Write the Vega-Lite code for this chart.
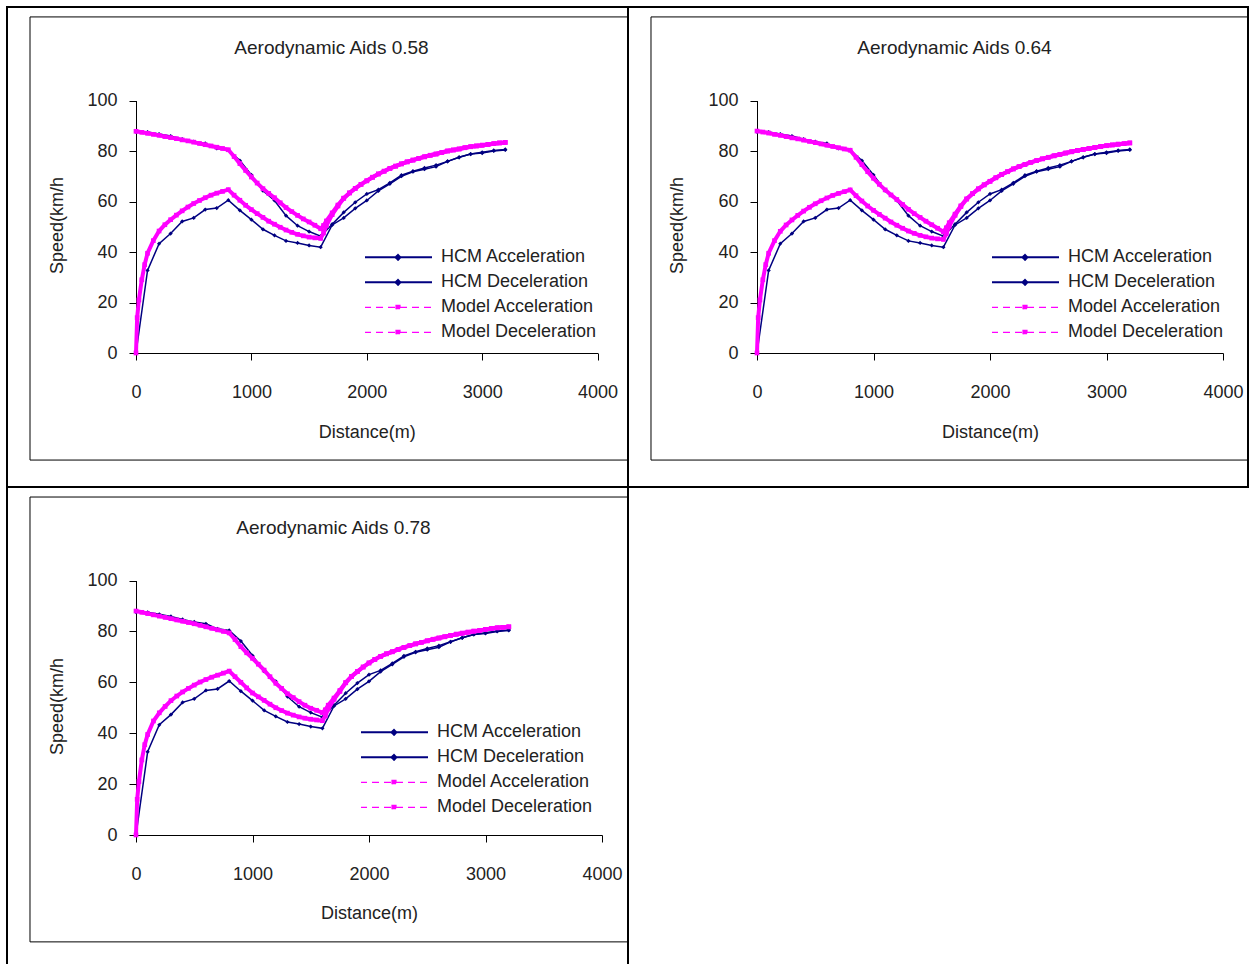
{
"$schema": "https://vega.github.io/schema/vega-lite/v6.json",
"padding": {"left": 6, "top": 6, "right": 0, "bottom": 0},
"background": "white",
"config": {
 "font": "Liberation Sans",
 "view": {"stroke": "#000", "strokeWidth": 2},
 "axis": {"grid": false, "domainColor": "#000", "tickColor": "#000", "tickSize": 7, "labelFont": "Liberation Sans", "labelFontSize": 18, "labelColor": "#222", "titleFont": "Liberation Sans", "titleFontSize": 18, "titleFontWeight": "normal", "titleColor": "#222", "format": "d"},
 "axisX": {"labelFlush": false, "labelPadding": 23, "titleBaseline": "middle"},
 "axisY": {"labelPadding": 12, "titleBaseline": "middle", "titleAlign": "center", "titleAngle": -90},
 "title": {"font": "Liberation Sans", "fontSize": 19, "fontWeight": "normal", "color": "#222", "anchor": "middle", "frame": "group", "offset": 0, "baseline": "middle"},
 "legend": {"orient": "none", "title": null, "padding": 0, "clipHeight": 22.7, "rowPadding": 2, "symbolSize": 400, "labelOffset": 58, "labelFontSize": 18, "labelFont": "Liberation Sans", "labelColor": "#222", "labelLimit": 0}
},
"datasets": {
 "hcm": [
  {"series":"HA","distance":0,"speed":0},{"series":"HA","distance":100,"speed":32.7},{"series":"HA","distance":200,"speed":43.3},{"series":"HA","distance":300,"speed":47.3},{"series":"HA","distance":400,"speed":52.1},{"series":"HA","distance":500,"speed":53.5},{"series":"HA","distance":600,"speed":56.8},{"series":"HA","distance":700,"speed":57.4},{"series":"HA","distance":800,"speed":60.5},{"series":"HA","distance":900,"speed":56.5},{"series":"HA","distance":1000,"speed":52.8},{"series":"HA","distance":1100,"speed":49.0},{"series":"HA","distance":1200,"speed":46.6},{"series":"HA","distance":1300,"speed":44.4},{"series":"HA","distance":1400,"speed":43.6},{"series":"HA","distance":1500,"speed":42.6},{"series":"HA","distance":1600,"speed":41.9},{"series":"HA","distance":1700,"speed":50.7},{"series":"HA","distance":1800,"speed":53.5},{"series":"HA","distance":1900,"speed":57.3},{"series":"HA","distance":2000,"speed":60.4},{"series":"HA","distance":2100,"speed":64.2},{"series":"HA","distance":2200,"speed":67.0},{"series":"HA","distance":2300,"speed":70.0},{"series":"HA","distance":2400,"speed":71.8},{"series":"HA","distance":2500,"speed":72.8},{"series":"HA","distance":2600,"speed":73.8},{"series":"HA","distance":2700,"speed":75.9},{"series":"HA","distance":2800,"speed":77.5},{"series":"HA","distance":2900,"speed":78.8},{"series":"HA","distance":3000,"speed":79.2},{"series":"HA","distance":3100,"speed":80.0},{"series":"HA","distance":3200,"speed":80.4},
  {"series":"HD","distance":0,"speed":87.6},{"series":"HD","distance":100,"speed":87.5},{"series":"HD","distance":200,"speed":86.7},{"series":"HD","distance":300,"speed":85.9},{"series":"HD","distance":400,"speed":84.7},{"series":"HD","distance":500,"speed":83.7},{"series":"HD","distance":600,"speed":83.0},{"series":"HD","distance":700,"speed":81.0},{"series":"HD","distance":800,"speed":80.4},{"series":"HD","distance":900,"speed":76.2},{"series":"HD","distance":1000,"speed":70.5},{"series":"HD","distance":1100,"speed":64.3},{"series":"HD","distance":1200,"speed":60.4},{"series":"HD","distance":1300,"speed":54.4},{"series":"HD","distance":1400,"speed":50.4},{"series":"HD","distance":1500,"speed":48.1},{"series":"HD","distance":1600,"speed":46.3},{"series":"HD","distance":1700,"speed":51.0},{"series":"HD","distance":1800,"speed":55.7},{"series":"HD","distance":1900,"speed":59.7},{"series":"HD","distance":2000,"speed":63.0},{"series":"HD","distance":2100,"speed":64.7},{"series":"HD","distance":2200,"speed":67.4},{"series":"HD","distance":2300,"speed":70.4},{"series":"HD","distance":2400,"speed":72.0},{"series":"HD","distance":2500,"speed":73.3},{"series":"HD","distance":2600,"speed":74.4},{"series":"HD","distance":2700,"speed":75.9},{"series":"HD","distance":2800,"speed":77.5},{"series":"HD","distance":2900,"speed":78.8},{"series":"HD","distance":3000,"speed":79.5},{"series":"HD","distance":3100,"speed":80.2},{"series":"HD","distance":3200,"speed":80.6}
 ],
 "m058": [
  {"series":"MA","distance":0,"speed":0},{"series":"MA","distance":10,"speed":14},{"series":"MA","distance":25,"speed":21},{"series":"MA","distance":50,"speed":29},{"series":"MA","distance":75,"speed":35},{"series":"MA","distance":100,"speed":39.5},{"series":"MA","distance":150,"speed":44.5},{"series":"MA","distance":200,"speed":48.3},{"series":"MA","distance":250,"speed":50.8},{"series":"MA","distance":300,"speed":52.8},{"series":"MA","distance":350,"speed":54.6},{"series":"MA","distance":400,"speed":56.3},{"series":"MA","distance":450,"speed":57.8},{"series":"MA","distance":500,"speed":59.2},{"series":"MA","distance":550,"speed":60.4},{"series":"MA","distance":600,"speed":61.5},{"series":"MA","distance":650,"speed":62.5},{"series":"MA","distance":700,"speed":63.3},{"series":"MA","distance":750,"speed":64.0},{"series":"MA","distance":800,"speed":64.7},{"series":"MA","distance":850,"speed":62.5},{"series":"MA","distance":900,"speed":60.5},{"series":"MA","distance":950,"speed":58.5},{"series":"MA","distance":1000,"speed":56.8},{"series":"MA","distance":1050,"speed":55.2},{"series":"MA","distance":1100,"speed":53.7},{"series":"MA","distance":1150,"speed":52.2},{"series":"MA","distance":1200,"speed":51.0},{"series":"MA","distance":1250,"speed":49.8},{"series":"MA","distance":1300,"speed":48.7},{"series":"MA","distance":1350,"speed":47.8},{"series":"MA","distance":1400,"speed":47.0},{"series":"MA","distance":1450,"speed":46.4},{"series":"MA","distance":1500,"speed":45.9},{"series":"MA","distance":1550,"speed":45.6},{"series":"MA","distance":1600,"speed":45.4},{"series":"MA","distance":1625,"speed":47.5},{"series":"MA","distance":1650,"speed":50.5},{"series":"MA","distance":1700,"speed":54.8},{"series":"MA","distance":1750,"speed":58.2},{"series":"MA","distance":1800,"speed":61.3},{"series":"MA","distance":1850,"speed":63.4},{"series":"MA","distance":1900,"speed":65.2},{"series":"MA","distance":1950,"speed":66.8},{"series":"MA","distance":2000,"speed":68.2},{"series":"MA","distance":2050,"speed":69.6},{"series":"MA","distance":2100,"speed":70.9},{"series":"MA","distance":2150,"speed":72.0},{"series":"MA","distance":2200,"speed":73.1},{"series":"MA","distance":2250,"speed":74.0},{"series":"MA","distance":2300,"speed":74.9},{"series":"MA","distance":2350,"speed":75.7},{"series":"MA","distance":2400,"speed":76.4},{"series":"MA","distance":2450,"speed":77.1},{"series":"MA","distance":2500,"speed":77.7},{"series":"MA","distance":2550,"speed":78.3},{"series":"MA","distance":2600,"speed":78.8},{"series":"MA","distance":2650,"speed":79.4},{"series":"MA","distance":2700,"speed":80.0},{"series":"MA","distance":2750,"speed":80.4},{"series":"MA","distance":2800,"speed":80.8},{"series":"MA","distance":2850,"speed":81.3},{"series":"MA","distance":2900,"speed":81.7},{"series":"MA","distance":2950,"speed":82.0},{"series":"MA","distance":3000,"speed":82.3},{"series":"MA","distance":3050,"speed":82.6},{"series":"MA","distance":3100,"speed":82.9},{"series":"MA","distance":3150,"speed":83.2},{"series":"MA","distance":3200,"speed":83.4},
  {"series":"MD","distance":0,"speed":87.8},{"series":"MD","distance":50,"speed":87.4},{"series":"MD","distance":100,"speed":87.0},{"series":"MD","distance":150,"speed":86.6},{"series":"MD","distance":200,"speed":86.2},{"series":"MD","distance":250,"speed":85.7},{"series":"MD","distance":300,"speed":85.3},{"series":"MD","distance":350,"speed":84.9},{"series":"MD","distance":400,"speed":84.4},{"series":"MD","distance":450,"speed":84.0},{"series":"MD","distance":500,"speed":83.5},{"series":"MD","distance":550,"speed":83.0},{"series":"MD","distance":600,"speed":82.5},{"series":"MD","distance":650,"speed":82.0},{"series":"MD","distance":700,"speed":81.5},{"series":"MD","distance":750,"speed":81.0},{"series":"MD","distance":800,"speed":80.5},{"series":"MD","distance":850,"speed":77.8},{"series":"MD","distance":900,"speed":75.0},{"series":"MD","distance":950,"speed":72.3},{"series":"MD","distance":1000,"speed":69.7},{"series":"MD","distance":1050,"speed":67.3},{"series":"MD","distance":1100,"speed":65.1},{"series":"MD","distance":1150,"speed":63.2},{"series":"MD","distance":1200,"speed":61.5},{"series":"MD","distance":1250,"speed":59.5},{"series":"MD","distance":1300,"speed":57.6},{"series":"MD","distance":1350,"speed":56.0},{"series":"MD","distance":1400,"speed":54.5},{"series":"MD","distance":1450,"speed":53.1},{"series":"MD","distance":1500,"speed":51.9},{"series":"MD","distance":1550,"speed":50.6},{"series":"MD","distance":1600,"speed":49.2},{"series":"MD","distance":1625,"speed":50.5},{"series":"MD","distance":1650,"speed":52.3},{"series":"MD","distance":1700,"speed":55.5},{"series":"MD","distance":1750,"speed":58.6},{"series":"MD","distance":1800,"speed":61.3},{"series":"MD","distance":1850,"speed":63.4},{"series":"MD","distance":1900,"speed":65.2},{"series":"MD","distance":1950,"speed":66.8},{"series":"MD","distance":2000,"speed":68.2},{"series":"MD","distance":2050,"speed":69.6},{"series":"MD","distance":2100,"speed":70.9},{"series":"MD","distance":2150,"speed":72.0},{"series":"MD","distance":2200,"speed":73.1},{"series":"MD","distance":2250,"speed":74.0},{"series":"MD","distance":2300,"speed":74.9},{"series":"MD","distance":2350,"speed":75.7},{"series":"MD","distance":2400,"speed":76.4},{"series":"MD","distance":2450,"speed":77.1},{"series":"MD","distance":2500,"speed":77.7},{"series":"MD","distance":2550,"speed":78.3},{"series":"MD","distance":2600,"speed":78.8},{"series":"MD","distance":2650,"speed":79.4},{"series":"MD","distance":2700,"speed":80.0},{"series":"MD","distance":2750,"speed":80.4},{"series":"MD","distance":2800,"speed":80.8},{"series":"MD","distance":2850,"speed":81.3},{"series":"MD","distance":2900,"speed":81.7},{"series":"MD","distance":2950,"speed":82.0},{"series":"MD","distance":3000,"speed":82.3},{"series":"MD","distance":3050,"speed":82.6},{"series":"MD","distance":3100,"speed":82.9},{"series":"MD","distance":3150,"speed":83.2},{"series":"MD","distance":3200,"speed":83.4}
 ],
 "m064": [
  {"series":"MA","distance":0,"speed":0},{"series":"MA","distance":10,"speed":14},{"series":"MA","distance":25,"speed":21},{"series":"MA","distance":50,"speed":29},{"series":"MA","distance":75,"speed":35},{"series":"MA","distance":100,"speed":39.5},{"series":"MA","distance":150,"speed":44.5},{"series":"MA","distance":200,"speed":48.2},{"series":"MA","distance":250,"speed":50.7},{"series":"MA","distance":300,"speed":52.7},{"series":"MA","distance":350,"speed":54.5},{"series":"MA","distance":400,"speed":56.2},{"series":"MA","distance":450,"speed":57.7},{"series":"MA","distance":500,"speed":59.1},{"series":"MA","distance":550,"speed":60.3},{"series":"MA","distance":600,"speed":61.4},{"series":"MA","distance":650,"speed":62.4},{"series":"MA","distance":700,"speed":63.2},{"series":"MA","distance":750,"speed":63.9},{"series":"MA","distance":800,"speed":64.6},{"series":"MA","distance":850,"speed":62.3},{"series":"MA","distance":900,"speed":60.2},{"series":"MA","distance":950,"speed":58.2},{"series":"MA","distance":1000,"speed":56.5},{"series":"MA","distance":1050,"speed":54.9},{"series":"MA","distance":1100,"speed":53.4},{"series":"MA","distance":1150,"speed":51.9},{"series":"MA","distance":1200,"speed":50.6},{"series":"MA","distance":1250,"speed":49.4},{"series":"MA","distance":1300,"speed":48.3},{"series":"MA","distance":1350,"speed":47.4},{"series":"MA","distance":1400,"speed":46.6},{"series":"MA","distance":1450,"speed":46.0},{"series":"MA","distance":1500,"speed":45.5},{"series":"MA","distance":1550,"speed":45.2},{"series":"MA","distance":1600,"speed":45.0},{"series":"MA","distance":1625,"speed":47.2},{"series":"MA","distance":1650,"speed":50.2},{"series":"MA","distance":1700,"speed":54.5},{"series":"MA","distance":1750,"speed":58.0},{"series":"MA","distance":1800,"speed":61.0},{"series":"MA","distance":1850,"speed":63.1},{"series":"MA","distance":1900,"speed":65.0},{"series":"MA","distance":1950,"speed":66.6},{"series":"MA","distance":2000,"speed":68.0},{"series":"MA","distance":2050,"speed":69.4},{"series":"MA","distance":2100,"speed":70.7},{"series":"MA","distance":2150,"speed":71.8},{"series":"MA","distance":2200,"speed":72.9},{"series":"MA","distance":2250,"speed":73.8},{"series":"MA","distance":2300,"speed":74.7},{"series":"MA","distance":2350,"speed":75.5},{"series":"MA","distance":2400,"speed":76.2},{"series":"MA","distance":2450,"speed":76.9},{"series":"MA","distance":2500,"speed":77.5},{"series":"MA","distance":2550,"speed":78.1},{"series":"MA","distance":2600,"speed":78.6},{"series":"MA","distance":2650,"speed":79.2},{"series":"MA","distance":2700,"speed":79.7},{"series":"MA","distance":2750,"speed":80.2},{"series":"MA","distance":2800,"speed":80.6},{"series":"MA","distance":2850,"speed":81.0},{"series":"MA","distance":2900,"speed":81.4},{"series":"MA","distance":2950,"speed":81.8},{"series":"MA","distance":3000,"speed":82.1},{"series":"MA","distance":3050,"speed":82.4},{"series":"MA","distance":3100,"speed":82.7},{"series":"MA","distance":3150,"speed":82.9},{"series":"MA","distance":3200,"speed":83.2},
  {"series":"MD","distance":0,"speed":87.9},{"series":"MD","distance":50,"speed":87.5},{"series":"MD","distance":100,"speed":87.1},{"series":"MD","distance":150,"speed":86.6},{"series":"MD","distance":200,"speed":86.2},{"series":"MD","distance":250,"speed":85.7},{"series":"MD","distance":300,"speed":85.2},{"series":"MD","distance":350,"speed":84.8},{"series":"MD","distance":400,"speed":84.3},{"series":"MD","distance":450,"speed":83.8},{"series":"MD","distance":500,"speed":83.3},{"series":"MD","distance":550,"speed":82.8},{"series":"MD","distance":600,"speed":82.3},{"series":"MD","distance":650,"speed":81.8},{"series":"MD","distance":700,"speed":81.3},{"series":"MD","distance":750,"speed":80.8},{"series":"MD","distance":800,"speed":80.3},{"series":"MD","distance":850,"speed":77.5},{"series":"MD","distance":900,"speed":74.6},{"series":"MD","distance":950,"speed":71.8},{"series":"MD","distance":1000,"speed":69.2},{"series":"MD","distance":1050,"speed":66.8},{"series":"MD","distance":1100,"speed":64.6},{"series":"MD","distance":1150,"speed":62.6},{"series":"MD","distance":1200,"speed":60.8},{"series":"MD","distance":1250,"speed":58.8},{"series":"MD","distance":1300,"speed":56.9},{"series":"MD","distance":1350,"speed":55.2},{"series":"MD","distance":1400,"speed":53.7},{"series":"MD","distance":1450,"speed":52.2},{"series":"MD","distance":1500,"speed":50.8},{"series":"MD","distance":1550,"speed":49.4},{"series":"MD","distance":1600,"speed":48.0},{"series":"MD","distance":1625,"speed":49.6},{"series":"MD","distance":1650,"speed":51.6},{"series":"MD","distance":1700,"speed":55.0},{"series":"MD","distance":1750,"speed":58.3},{"series":"MD","distance":1800,"speed":61.0},{"series":"MD","distance":1850,"speed":63.1},{"series":"MD","distance":1900,"speed":65.0},{"series":"MD","distance":1950,"speed":66.6},{"series":"MD","distance":2000,"speed":68.0},{"series":"MD","distance":2050,"speed":69.4},{"series":"MD","distance":2100,"speed":70.7},{"series":"MD","distance":2150,"speed":71.8},{"series":"MD","distance":2200,"speed":72.9},{"series":"MD","distance":2250,"speed":73.8},{"series":"MD","distance":2300,"speed":74.7},{"series":"MD","distance":2350,"speed":75.5},{"series":"MD","distance":2400,"speed":76.2},{"series":"MD","distance":2450,"speed":76.9},{"series":"MD","distance":2500,"speed":77.5},{"series":"MD","distance":2550,"speed":78.1},{"series":"MD","distance":2600,"speed":78.6},{"series":"MD","distance":2650,"speed":79.2},{"series":"MD","distance":2700,"speed":79.7},{"series":"MD","distance":2750,"speed":80.2},{"series":"MD","distance":2800,"speed":80.6},{"series":"MD","distance":2850,"speed":81.0},{"series":"MD","distance":2900,"speed":81.4},{"series":"MD","distance":2950,"speed":81.8},{"series":"MD","distance":3000,"speed":82.1},{"series":"MD","distance":3050,"speed":82.4},{"series":"MD","distance":3100,"speed":82.7},{"series":"MD","distance":3150,"speed":82.9},{"series":"MD","distance":3200,"speed":83.2}
 ],
 "m078": [
  {"series":"MA","distance":0,"speed":0},{"series":"MA","distance":10,"speed":14},{"series":"MA","distance":25,"speed":21},{"series":"MA","distance":50,"speed":29.5},{"series":"MA","distance":75,"speed":35.5},{"series":"MA","distance":100,"speed":39.5},{"series":"MA","distance":150,"speed":44.8},{"series":"MA","distance":200,"speed":48.0},{"series":"MA","distance":250,"speed":50.5},{"series":"MA","distance":300,"speed":52.8},{"series":"MA","distance":350,"speed":54.6},{"series":"MA","distance":400,"speed":56.2},{"series":"MA","distance":450,"speed":57.6},{"series":"MA","distance":500,"speed":58.9},{"series":"MA","distance":550,"speed":60.1},{"series":"MA","distance":600,"speed":61.1},{"series":"MA","distance":650,"speed":62.0},{"series":"MA","distance":700,"speed":62.8},{"series":"MA","distance":750,"speed":63.6},{"series":"MA","distance":800,"speed":64.4},{"series":"MA","distance":850,"speed":62.2},{"series":"MA","distance":900,"speed":60.0},{"series":"MA","distance":950,"speed":57.8},{"series":"MA","distance":1000,"speed":55.8},{"series":"MA","distance":1050,"speed":54.3},{"series":"MA","distance":1100,"speed":52.9},{"series":"MA","distance":1150,"speed":51.4},{"series":"MA","distance":1200,"speed":50.0},{"series":"MA","distance":1250,"speed":48.9},{"series":"MA","distance":1300,"speed":47.9},{"series":"MA","distance":1350,"speed":47.1},{"series":"MA","distance":1400,"speed":46.4},{"series":"MA","distance":1450,"speed":45.9},{"series":"MA","distance":1500,"speed":45.5},{"series":"MA","distance":1550,"speed":45.2},{"series":"MA","distance":1600,"speed":44.9},{"series":"MA","distance":1625,"speed":46.8},{"series":"MA","distance":1650,"speed":49.5},{"series":"MA","distance":1700,"speed":53.3},{"series":"MA","distance":1750,"speed":56.4},{"series":"MA","distance":1800,"speed":59.8},{"series":"MA","distance":1850,"speed":62.3},{"series":"MA","distance":1900,"speed":64.2},{"series":"MA","distance":1950,"speed":66.0},{"series":"MA","distance":2000,"speed":67.6},{"series":"MA","distance":2050,"speed":69.0},{"series":"MA","distance":2100,"speed":70.2},{"series":"MA","distance":2150,"speed":71.2},{"series":"MA","distance":2200,"speed":72.0},{"series":"MA","distance":2250,"speed":72.9},{"series":"MA","distance":2300,"speed":73.7},{"series":"MA","distance":2350,"speed":74.4},{"series":"MA","distance":2400,"speed":75.1},{"series":"MA","distance":2450,"speed":75.7},{"series":"MA","distance":2500,"speed":76.3},{"series":"MA","distance":2550,"speed":76.9},{"series":"MA","distance":2600,"speed":77.4},{"series":"MA","distance":2650,"speed":77.9},{"series":"MA","distance":2700,"speed":78.4},{"series":"MA","distance":2750,"speed":78.9},{"series":"MA","distance":2800,"speed":79.3},{"series":"MA","distance":2850,"speed":79.7},{"series":"MA","distance":2900,"speed":80.1},{"series":"MA","distance":2950,"speed":80.4},{"series":"MA","distance":3000,"speed":80.8},{"series":"MA","distance":3050,"speed":81.1},{"series":"MA","distance":3100,"speed":81.4},{"series":"MA","distance":3150,"speed":81.6},{"series":"MA","distance":3200,"speed":81.8},
  {"series":"MD","distance":0,"speed":88.0},{"series":"MD","distance":50,"speed":87.5},{"series":"MD","distance":100,"speed":87.0},{"series":"MD","distance":150,"speed":86.5},{"series":"MD","distance":200,"speed":86.0},{"series":"MD","distance":250,"speed":85.5},{"series":"MD","distance":300,"speed":85.0},{"series":"MD","distance":350,"speed":84.5},{"series":"MD","distance":400,"speed":84.0},{"series":"MD","distance":450,"speed":83.5},{"series":"MD","distance":500,"speed":83.0},{"series":"MD","distance":550,"speed":82.4},{"series":"MD","distance":600,"speed":81.8},{"series":"MD","distance":650,"speed":81.2},{"series":"MD","distance":700,"speed":80.6},{"series":"MD","distance":750,"speed":80.0},{"series":"MD","distance":800,"speed":79.4},{"series":"MD","distance":850,"speed":76.8},{"series":"MD","distance":900,"speed":74.0},{"series":"MD","distance":950,"speed":71.6},{"series":"MD","distance":1000,"speed":69.4},{"series":"MD","distance":1050,"speed":67.1},{"series":"MD","distance":1100,"speed":64.8},{"series":"MD","distance":1150,"speed":62.2},{"series":"MD","distance":1200,"speed":59.6},{"series":"MD","distance":1250,"speed":57.6},{"series":"MD","distance":1300,"speed":55.5},{"series":"MD","distance":1350,"speed":54.0},{"series":"MD","distance":1400,"speed":52.4},{"series":"MD","distance":1450,"speed":51.0},{"series":"MD","distance":1500,"speed":49.8},{"series":"MD","distance":1550,"speed":49.0},{"series":"MD","distance":1600,"speed":48.1},{"series":"MD","distance":1625,"speed":49.2},{"series":"MD","distance":1650,"speed":51.0},{"series":"MD","distance":1700,"speed":53.8},{"series":"MD","distance":1750,"speed":56.8},{"series":"MD","distance":1800,"speed":59.9},{"series":"MD","distance":1850,"speed":62.3},{"series":"MD","distance":1900,"speed":64.2},{"series":"MD","distance":1950,"speed":66.0},{"series":"MD","distance":2000,"speed":67.6},{"series":"MD","distance":2050,"speed":69.0},{"series":"MD","distance":2100,"speed":70.2},{"series":"MD","distance":2150,"speed":71.2},{"series":"MD","distance":2200,"speed":72.0},{"series":"MD","distance":2250,"speed":72.9},{"series":"MD","distance":2300,"speed":73.7},{"series":"MD","distance":2350,"speed":74.4},{"series":"MD","distance":2400,"speed":75.1},{"series":"MD","distance":2450,"speed":75.7},{"series":"MD","distance":2500,"speed":76.3},{"series":"MD","distance":2550,"speed":76.9},{"series":"MD","distance":2600,"speed":77.4},{"series":"MD","distance":2650,"speed":77.9},{"series":"MD","distance":2700,"speed":78.4},{"series":"MD","distance":2750,"speed":78.9},{"series":"MD","distance":2800,"speed":79.3},{"series":"MD","distance":2850,"speed":79.7},{"series":"MD","distance":2900,"speed":80.1},{"series":"MD","distance":2950,"speed":80.4},{"series":"MD","distance":3000,"speed":80.8},{"series":"MD","distance":3050,"speed":81.1},{"series":"MD","distance":3100,"speed":81.4},{"series":"MD","distance":3150,"speed":81.6},{"series":"MD","distance":3200,"speed":81.8}
 ]
},
"spacing": 0,
"bounds": "flush",
"columns": 2,
"resolve": {"scale": {"color": "independent"}, "legend": {"color": "independent"}},
"concat": [
   {
    "width": 621, "height": 480,
    "title": {"text": "Aerodynamic Aids 0.58", "dx": 14, "dy": 55},
    "layer": [
     {"data": {"name": "hcm"}, "mark": {"type": "line", "strokeWidth": 1.5},
      "encoding": {
       "x": {"field": "distance", "type": "quantitative", "scale": {"domain": [0, 4000], "range": [129, 590.6]}, "axis": {"values": [0, 1000, 2000, 3000, 4000], "offset": -134, "title": "Distance(m)", "titleY": 79}},
       "y": {"field": "speed", "type": "quantitative", "scale": {"domain": [0, 100], "range": [346, 93.5]}, "axis": {"values": [0, 20, 40, 60, 80, 100], "offset": -129, "title": "Speed(km/h", "titleX": -79, "titleY": 218}},
       "color": {"field": "series", "type": "nominal", "scale": {"domain": ["HA", "HD", "MA", "MD"], "range": ["#000080", "#000080", "#ff00ff", "#ff00ff"]},
        "legend": {"legendX": 358, "legendY": 239,
         "labelExpr": "datum.value == 'HA' ? 'HCM Acceleration' : datum.value == 'HD' ? 'HCM Deceleration' : datum.value == 'MA' ? 'Model Acceleration' : 'Model Deceleration'",
         "encode": {"symbols": {"update": {
          "shape": {"signal": "datum.value == 'HA' || datum.value == 'HD' ? 'M-1,0H5.8M2.4,-0.24L2.64,0L2.4,0.24L2.16,0Z' : 'M-1,0H5.8M2.2,-0.2H2.6V0.2H2.2Z'"},
          "strokeDash": {"signal": "datum.value == 'HA' || datum.value == 'HD' ? [1, 0] : [7, 5]"},
          "stroke": {"signal": "datum.value == 'HA' || datum.value == 'HD' ? '#000080' : '#ff00ff'"},
          "fill": {"signal": "datum.value == 'HA' || datum.value == 'HD' ? '#000080' : '#ff00ff'"},
          "strokeWidth": {"signal": "datum.value == 'HA' || datum.value == 'HD' ? 2 : 1.2"},
          "opacity": {"value": 1}
         }}}}}
      }},
     {"data": {"name": "hcm"}, "mark": {"type": "point", "shape": "diamond", "filled": true, "size": 18, "color": "#000080", "opacity": 1},
      "encoding": {"x": {"field": "distance", "type": "quantitative"}, "y": {"field": "speed", "type": "quantitative"}}},
     {"data": {"name": "m058"}, "mark": {"type": "line", "strokeWidth": 4, "color": "#ff00ff"},
      "encoding": {"x": {"field": "distance", "type": "quantitative"}, "y": {"field": "speed", "type": "quantitative"}, "detail": {"field": "series"}}},
     {"data": {"name": "m058"}, "mark": {"type": "point", "shape": "square", "filled": true, "size": 22, "color": "#ff00ff", "opacity": 1},
      "encoding": {"x": {"field": "distance", "type": "quantitative"}, "y": {"field": "speed", "type": "quantitative"}}},
     {"data": {"values": [{}]}, "mark": {"type": "rect", "fillOpacity": 0, "stroke": "#000", "strokeWidth": 1},
      "encoding": {"x": {"datum": -918.5, "type": "quantitative"}, "x2": {"datum": 4263}, "y": {"datum": 133.1, "type": "quantitative"}, "y2": {"datum": -42.4}}}
    ]
   },
   {
    "width": 620, "height": 480,
    "title": {"text": "Aerodynamic Aids 0.64", "dx": 16.5, "dy": 55},
    "layer": [
     {"data": {"name": "hcm"}, "mark": {"type": "line", "strokeWidth": 1.5},
      "encoding": {
       "x": {"field": "distance", "type": "quantitative", "scale": {"domain": [0, 4000], "range": [129, 595]}, "axis": {"values": [0, 1000, 2000, 3000, 4000], "offset": -134, "title": "Distance(m)", "titleY": 79}},
       "y": {"field": "speed", "type": "quantitative", "scale": {"domain": [0, 100], "range": [346, 93.5]}, "axis": {"values": [0, 20, 40, 60, 80, 100], "offset": -129, "title": "Speed(km/h", "titleX": -80, "titleY": 218}},
       "color": {"field": "series", "type": "nominal", "scale": {"domain": ["HA", "HD", "MA", "MD"], "range": ["#000080", "#000080", "#ff00ff", "#ff00ff"]},
        "legend": {"legendX": 364, "legendY": 239,
         "labelExpr": "datum.value == 'HA' ? 'HCM Acceleration' : datum.value == 'HD' ? 'HCM Deceleration' : datum.value == 'MA' ? 'Model Acceleration' : 'Model Deceleration'",
         "encode": {"symbols": {"update": {
          "shape": {"signal": "datum.value == 'HA' || datum.value == 'HD' ? 'M-1,0H5.8M2.4,-0.24L2.64,0L2.4,0.24L2.16,0Z' : 'M-1,0H5.8M2.2,-0.2H2.6V0.2H2.2Z'"},
          "strokeDash": {"signal": "datum.value == 'HA' || datum.value == 'HD' ? [1, 0] : [7, 5]"},
          "stroke": {"signal": "datum.value == 'HA' || datum.value == 'HD' ? '#000080' : '#ff00ff'"},
          "fill": {"signal": "datum.value == 'HA' || datum.value == 'HD' ? '#000080' : '#ff00ff'"},
          "strokeWidth": {"signal": "datum.value == 'HA' || datum.value == 'HD' ? 2 : 1.2"},
          "opacity": {"value": 1}
         }}}}}
      }},
     {"data": {"name": "hcm"}, "mark": {"type": "point", "shape": "diamond", "filled": true, "size": 18, "color": "#000080", "opacity": 1},
      "encoding": {"x": {"field": "distance", "type": "quantitative"}, "y": {"field": "speed", "type": "quantitative"}}},
     {"data": {"name": "m064"}, "mark": {"type": "line", "strokeWidth": 4, "color": "#ff00ff"},
      "encoding": {"x": {"field": "distance", "type": "quantitative"}, "y": {"field": "speed", "type": "quantitative"}, "detail": {"field": "series"}}},
     {"data": {"name": "m064"}, "mark": {"type": "point", "shape": "square", "filled": true, "size": 22, "color": "#ff00ff", "opacity": 1},
      "encoding": {"x": {"field": "distance", "type": "quantitative"}, "y": {"field": "speed", "type": "quantitative"}}},
     {"data": {"values": [{}]}, "mark": {"type": "rect", "fillOpacity": 0, "stroke": "#000", "strokeWidth": 1},
      "encoding": {"x": {"datum": -910, "type": "quantitative"}, "x2": {"datum": 4215}, "y": {"datum": 133.1, "type": "quantitative"}, "y2": {"datum": -42.4}}}
    ]
   },
   {
    "width": 621, "height": 477,
    "view": {"strokeDash": [1098, 621, 477, 0]},
    "title": {"text": "Aerodynamic Aids 0.78", "dx": 16, "dy": 55},
    "layer": [
     {"data": {"name": "hcm"}, "mark": {"type": "line", "strokeWidth": 1.5},
      "encoding": {
       "x": {"field": "distance", "type": "quantitative", "scale": {"domain": [0, 4000], "range": [129, 595]}, "axis": {"values": [0, 1000, 2000, 3000, 4000], "offset": -129, "title": "Distance(m)", "titleY": 78}},
       "y": {"field": "speed", "type": "quantitative", "scale": {"domain": [0, 100], "range": [348, 93.5]}, "axis": {"values": [0, 20, 40, 60, 80, 100], "offset": -129, "title": "Speed(km/h", "titleX": -79, "titleY": 219}},
       "color": {"field": "series", "type": "nominal", "scale": {"domain": ["HA", "HD", "MA", "MD"], "range": ["#000080", "#000080", "#ff00ff", "#ff00ff"]},
        "legend": {"legendX": 354, "legendY": 234,
         "labelExpr": "datum.value == 'HA' ? 'HCM Acceleration' : datum.value == 'HD' ? 'HCM Deceleration' : datum.value == 'MA' ? 'Model Acceleration' : 'Model Deceleration'",
         "encode": {"symbols": {"update": {
          "shape": {"signal": "datum.value == 'HA' || datum.value == 'HD' ? 'M-1,0H5.8M2.4,-0.24L2.64,0L2.4,0.24L2.16,0Z' : 'M-1,0H5.8M2.2,-0.2H2.6V0.2H2.2Z'"},
          "strokeDash": {"signal": "datum.value == 'HA' || datum.value == 'HD' ? [1, 0] : [7, 5]"},
          "stroke": {"signal": "datum.value == 'HA' || datum.value == 'HD' ? '#000080' : '#ff00ff'"},
          "fill": {"signal": "datum.value == 'HA' || datum.value == 'HD' ? '#000080' : '#ff00ff'"},
          "strokeWidth": {"signal": "datum.value == 'HA' || datum.value == 'HD' ? 2 : 1.2"},
          "opacity": {"value": 1}
         }}}}}
    }},
   {"data": {"name": "hcm"}, "mark": {"type": "point", "shape": "diamond", "filled": true, "size": 18, "color": "#000080", "opacity": 1},
    "encoding": {"x": {"field": "distance", "type": "quantitative"}, "y": {"field": "speed", "type": "quantitative"}}},
   {"data": {"name": "m078"}, "mark": {"type": "line", "strokeWidth": 4, "color": "#ff00ff"},
    "encoding": {"x": {"field": "distance", "type": "quantitative"}, "y": {"field": "speed", "type": "quantitative"}, "detail": {"field": "series"}}},
   {"data": {"name": "m078"}, "mark": {"type": "point", "shape": "square", "filled": true, "size": 22, "color": "#ff00ff", "opacity": 1},
    "encoding": {"x": {"field": "distance", "type": "quantitative"}, "y": {"field": "speed", "type": "quantitative"}}},
   {"data": {"values": [{}]}, "mark": {"type": "rect", "fillOpacity": 0, "stroke": "#000", "strokeWidth": 1},
    "encoding": {"x": {"datum": -910, "type": "quantitative"}, "x2": {"datum": 4223}, "y": {"datum": 132.8, "type": "quantitative"}, "y2": {"datum": -42.0}}}
  ]
 }
]
}
